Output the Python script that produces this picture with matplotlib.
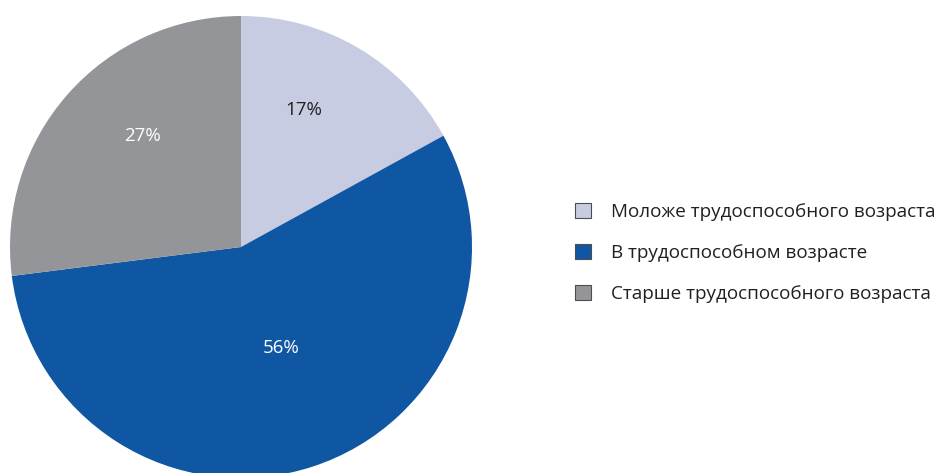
import numpy as np
import matplotlib.pyplot as plt
from matplotlib.patches import Patch

labels = ["Моложе трудоспособного возраста", "В трудоспособном возрасте", "Старше трудоспособного возраста"]
shares = [17, 56, 27]
colors = ["#C8CCE2", "#1057A3", "#939598"]
text_colors = ["#231F20", "white", "white"]
label_r = [0.65, 0.47, 0.64]
label_shift = [6, 3.5, -7]  # degrees

plt.rcParams["font.family"] = ["Open Sans", "DejaVu Sans"]


def main():
    W, H = 944, 473
    fig = plt.figure(figsize=(W / 100, H / 100), dpi=100, facecolor="w")
    cx, cy, r = 241, 247, 231
    ax = fig.add_axes([(cx - r) / W, (H - cy - r) / H, 2 * r / W, 2 * r / H])
    wedges, _ = ax.pie(shares, colors=colors, startangle=90, counterclock=False,
                       radius=1, wedgeprops={"linewidth": 0})
    ax.set_xlim(-1, 1)
    ax.set_ylim(-1, 1)
    for w, v, tc, d, s in zip(wedges, shares, text_colors, label_r, label_shift):
        ang = np.deg2rad((w.theta1 + w.theta2) / 2 + s)
        ax.text(d * np.cos(ang), d * np.sin(ang), f"{v}%", color=tc, fontsize=13.5,
                ha="center", va="center")

    handles = [Patch(facecolor=c, edgecolor="#4d4d4d", linewidth=0.8) for c in colors]
    fig.legend(handles, labels, loc="center left", bbox_to_anchor=(558 / W, 1 - 253 / H),
               frameon=False, fontsize=13.6, handlelength=0.85, handleheight=0.85,
               handletextpad=1.05, labelspacing=1.2, labelcolor="#231F20")
    fig.savefig("out.png", dpi=100)
    plt.close(fig)


if __name__ == "__main__":
    main()
